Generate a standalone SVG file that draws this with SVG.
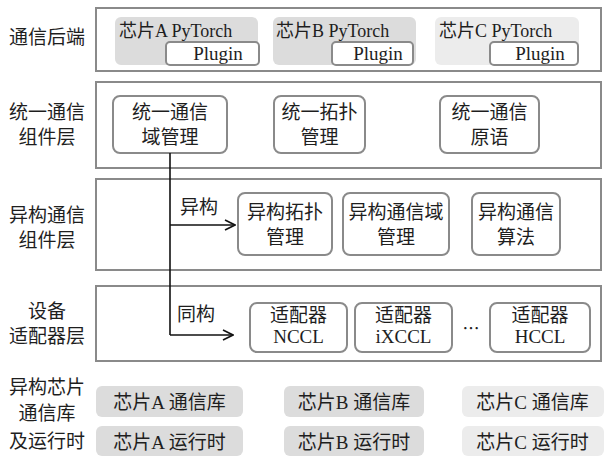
<svg xmlns="http://www.w3.org/2000/svg" width="604" height="456" viewBox="0 0 604 456">
<defs>
<style>
text{font-family:"Liberation Serif","Noto Sans CJK SC",serif;font-size:19px;fill:#1e1e1e;text-anchor:middle}
.frame{fill:#fff;stroke:#8a8a8a;stroke-width:2}
.box{fill:#fff;stroke:#8a8a8a;stroke-width:2}
.chip{fill:#dcdcdc}
.chipl{fill:#ececec}
.st{text-anchor:start}
.ct{font-size:18px}
.conn{fill:none;stroke:#111;stroke-width:1.6}
</style>
<marker id="arr" viewBox="0 0 12 12" refX="11" refY="6" markerWidth="12" markerHeight="12" markerUnits="userSpaceOnUse" orient="auto">
<path d="M1,1 L11,6 L1,11" fill="none" stroke="#111" stroke-width="1.6"/>
</marker>
</defs>
<rect width="604" height="456" fill="#fff"/>

<!-- layer frames -->
<g id="layers">
<rect class="frame" x="96" y="8" width="505" height="63"/>
<rect class="frame" x="96" y="82" width="505" height="86"/>
<rect class="frame" x="96" y="179" width="505" height="91"/>
<rect class="frame" x="96" y="286" width="505" height="75"/>
</g>

<!-- left labels -->
<g id="labels">
<text x="47" y="44">通信后端</text>
<text x="47" y="119">统一通信</text>
<text x="47" y="144">组件层</text>
<text x="47" y="222">异构通信</text>
<text x="47" y="247">组件层</text>
<text x="47" y="318">设备</text>
<text x="47" y="343">适配器层</text>
<text x="47" y="394">异构芯片</text>
<text x="47" y="420">通信库</text>
<text x="47" y="448">及运行时</text>
</g>

<!-- layer 1 -->
<g id="chipA-plugin">
<rect class="chip" x="115" y="17" width="143" height="48" rx="6"/>
<text class="st ct" x="119" y="37">芯片A PyTorch</text>
<rect class="box" x="166" y="42" width="93" height="23" rx="4"/>
<text x="218" y="60">Plugin</text>
</g>
<g id="chipB-plugin">
<rect class="chip" x="273" y="17" width="143" height="48" rx="6"/>
<text class="st ct" x="276" y="37">芯片B PyTorch</text>
<rect class="box" x="332" y="42" width="81" height="23" rx="4"/>
<text x="378" y="60">Plugin</text>
</g>
<g id="chipC-plugin">
<rect class="chipl" x="435" y="17" width="144" height="48" rx="6"/>
<text class="st ct" x="439" y="37">芯片C PyTorch</text>
<rect class="box" x="490" y="42" width="88" height="23" rx="4"/>
<text x="540" y="60">Plugin</text>
</g>

<!-- layer 2 -->
<g id="unified-domain">
<rect class="box" x="113" y="96" width="114" height="57" rx="7"/>
<text x="170" y="119">统一通信</text>
<text x="170" y="144">域管理</text>
</g>
<g id="unified-topo">
<rect class="box" x="274" y="96" width="91" height="57" rx="7"/>
<text x="319.5" y="119">统一拓扑</text>
<text x="319.5" y="144">管理</text>
</g>
<g id="unified-prim">
<rect class="box" x="440" y="96" width="99" height="57" rx="7"/>
<text x="489.5" y="119">统一通信</text>
<text x="489.5" y="144">原语</text>
</g>

<!-- layer 3 -->
<g id="hetero-topo">
<rect class="box" x="238" y="193" width="94" height="62" rx="7"/>
<text x="285" y="219">异构拓扑</text>
<text x="285" y="244">管理</text>
</g>
<g id="hetero-domain">
<rect class="box" x="343" y="193" width="106" height="62" rx="7"/>
<text x="396" y="219">异构通信域</text>
<text x="396" y="244">管理</text>
</g>
<g id="hetero-algo">
<rect class="box" x="472" y="193" width="88" height="62" rx="7"/>
<text x="516" y="219">异构通信</text>
<text x="516" y="244">算法</text>
</g>

<!-- layer 4 -->
<g id="adapter-nccl">
<rect class="box" x="250" y="303" width="97" height="49" rx="7"/>
<text x="298.5" y="322">适配器</text>
<text x="298.5" y="343">NCCL</text>
</g>
<g id="adapter-ixccl">
<rect class="box" x="355" y="303" width="97" height="49" rx="7"/>
<text x="403.5" y="322">适配器</text>
<text x="403.5" y="343">iXCCL</text>
</g>
<text x="471" y="335" style="font-family:'Noto Sans CJK SC',sans-serif;font-size:17px">…</text>
<g id="adapter-hccl">
<rect class="box" x="490" y="303" width="100" height="49" rx="7"/>
<text x="540" y="322">适配器</text>
<text x="540" y="343">HCCL</text>
</g>

<!-- bottom -->
<g id="chipA-lib">
<rect class="chip" x="96" y="386" width="147" height="31" rx="6"/>
<text x="169.5" y="409">芯片A 通信库</text>
</g>
<g id="chipB-lib">
<rect class="chip" x="284" y="386" width="140" height="31" rx="6"/>
<text x="354" y="409">芯片B 通信库</text>
</g>
<g id="chipC-lib">
<rect class="chipl" x="462" y="386" width="142" height="31" rx="6"/>
<text x="532.5" y="409">芯片C 通信库</text>
</g>
<g id="chipA-rt">
<rect class="chip" x="96" y="426" width="147" height="30" rx="6"/>
<text x="169.5" y="449">芯片A 运行时</text>
</g>
<g id="chipB-rt">
<rect class="chip" x="284" y="426" width="140" height="30" rx="6"/>
<text x="354" y="449">芯片B 运行时</text>
</g>
<g id="chipC-rt">
<rect class="chipl" x="462" y="426" width="142" height="30" rx="6"/>
<text x="532.5" y="449">芯片C 运行时</text>
</g>

<!-- connectors -->
<g id="connectors">
<path class="conn" d="M170,153 V335"/>
<path class="conn" d="M170,225 H235" marker-end="url(#arr)"/>
<path class="conn" d="M170,335 H233" marker-end="url(#arr)"/>
<text class="st" x="180" y="214">异构</text>
<text class="st" x="177" y="321">同构</text>
</g>
</svg>
